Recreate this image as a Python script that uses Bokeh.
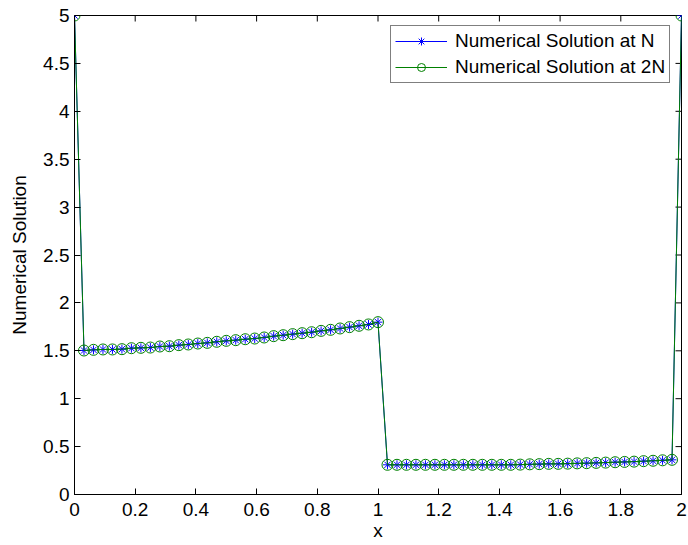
import math
from bokeh.plotting import figure
from bokeh.models import FixedTicker, Legend, LegendItem
from bokeh.embed import file_html
from bokeh.resources import INLINE

# grid points
x_vals = [0.0, 0.03125, 0.0625, 0.09375, 0.125, 0.15625, 0.1875, 0.21875, 0.25,
          0.28125, 0.3125, 0.34375, 0.375, 0.40625, 0.4375, 0.46875, 0.5,
          0.53125, 0.5625, 0.59375, 0.625, 0.65625, 0.6875, 0.71875, 0.75,
          0.78125, 0.8125, 0.84375, 0.875, 0.90625, 0.9375, 0.96875, 1.0,
          1.03125, 1.0625, 1.09375, 1.125, 1.15625, 1.1875, 1.21875, 1.25,
          1.28125, 1.3125, 1.34375, 1.375, 1.40625, 1.4375, 1.46875, 1.5,
          1.53125, 1.5625, 1.59375, 1.625, 1.65625, 1.6875, 1.71875, 1.75,
          1.78125, 1.8125, 1.84375, 1.875, 1.90625, 1.9375, 1.96875, 2.0]

# Numerical solution at N
y_N = [5.0,
       1.503, 1.510, 1.514, 1.514, 1.517, 1.527, 1.531, 1.534, 1.545, 1.548,
       1.559, 1.566, 1.576, 1.583, 1.594, 1.604, 1.611, 1.621, 1.628, 1.639,
       1.653, 1.663, 1.674, 1.684, 1.694, 1.708, 1.719, 1.733, 1.747, 1.761,
       1.775, 1.799,
       0.310, 0.310, 0.310, 0.310, 0.310, 0.310, 0.310, 0.310, 0.310, 0.310,
       0.310, 0.310, 0.310, 0.310, 0.312, 0.315, 0.317, 0.320, 0.320, 0.322,
       0.325, 0.327, 0.330, 0.333, 0.337, 0.340, 0.343, 0.348, 0.352, 0.357,
       0.362,
       5.0]

# Numerical solution at 2N (sampled at same points)
y_2N = [5.0,
        1.503, 1.510, 1.514, 1.514, 1.517, 1.527, 1.531, 1.534, 1.545, 1.548,
        1.559, 1.566, 1.576, 1.583, 1.594, 1.604, 1.611, 1.621, 1.628, 1.639,
        1.653, 1.663, 1.674, 1.684, 1.694, 1.708, 1.719, 1.733, 1.747, 1.761,
        1.775, 1.799,
        0.310, 0.310, 0.310, 0.310, 0.310, 0.310, 0.310, 0.310, 0.310, 0.310,
        0.310, 0.310, 0.310, 0.310, 0.312, 0.315, 0.317, 0.320, 0.320, 0.322,
        0.325, 0.327, 0.330, 0.333, 0.337, 0.340, 0.343, 0.348, 0.352, 0.357,
        0.362,
        5.0]

x_ticks = [0, 0.2, 0.4, 0.6, 0.8, 1, 1.2, 1.4, 1.6, 1.8, 2]
x_tick_labels = ["0", "0.2", "0.4", "0.6", "0.8", "1", "1.2", "1.4", "1.6", "1.8", "2"]
y_ticks = [0, 0.5, 1, 1.5, 2, 2.5, 3, 3.5, 4, 4.5, 5]
y_tick_labels = ["0", "0.5", "1", "1.5", "2", "2.5", "3", "3.5", "4", "4.5", "5"]

label_N = "Numerical Solution at N"
label_2N = "Numerical Solution at 2N"

FONT = "Liberation Sans"
FS = "19px"

p = figure(frame_width=607, frame_height=479, x_range=(0, 2), y_range=(0, 5),
           output_backend="svg", toolbar_location=None,
           min_border_left=74, min_border_right=7, min_border_top=15, min_border_bottom=51,
           background_fill_color="white", border_fill_color="white")
p.xgrid.visible = False
p.ygrid.visible = False
p.outline_line_color = "black"

for ax, ticks, labels in ((p.xaxis[0], x_ticks, x_tick_labels),
                          (p.yaxis[0], y_ticks, y_tick_labels)):
    ax.ticker = FixedTicker(ticks=ticks)
    ax.major_label_overrides = {t: l for t, l in zip(ticks, labels)}
    ax.major_tick_in = 6
    ax.major_tick_out = 0
    ax.minor_tick_in = 0
    ax.minor_tick_out = 0
    ax.axis_line_color = "black"
    ax.major_tick_line_color = "black"
    ax.major_label_text_font = FONT
    ax.major_label_text_font_size = FS
    ax.major_label_text_color = "black"
    ax.axis_label_text_font = FONT
    ax.axis_label_text_font_size = FS
    ax.axis_label_text_font_style = "normal"
    ax.axis_label_text_color = "black"

p.xaxis[0].axis_label = "x"
p.yaxis[0].axis_label = "Numerical Solution"
p.xaxis[0].major_label_standoff = 8
p.yaxis[0].major_label_standoff = 5
p.xaxis[0].axis_label_standoff = 1
p.yaxis[0].axis_label_standoff = 10

# inward ticks on the top and right edges of the box (half of each dash is clipped by the frame)
p.scatter(x_ticks, [5] * len(x_ticks), marker="dash", size=12, angle=math.pi / 2,
          line_color="black", line_width=1)
p.scatter([2] * len(y_ticks), y_ticks, marker="dash", size=12,
          line_color="black", line_width=1)

blue = "#0000ff"
green = "#008000"

l1 = p.line(x_vals, y_N, line_color=blue, line_width=1)
m1 = p.scatter(x_vals, y_N, marker="asterisk", size=9, line_color=blue, line_width=1)
l2 = p.line(x_vals, y_2N, line_color=green, line_width=1)
m2 = p.scatter(x_vals, y_2N, marker="circle", size=11, line_color=green,
               fill_color=None, line_width=1)

legend = Legend(items=[LegendItem(label=label_N, renderers=[l1, m1]),
                       LegendItem(label=label_2N, renderers=[l2, m2])],
                location=(316, 411))
legend.label_text_font = FONT
legend.label_text_font_size = FS
legend.label_text_color = "black"
legend.border_line_color = "black"
legend.border_line_width = 1
legend.background_fill_color = "white"
legend.background_fill_alpha = 1
legend.glyph_width = 52
legend.glyph_height = 20
legend.label_height = 20
legend.label_standoff = 8
legend.padding = 4
legend.spacing = 4
legend.margin = 0
p.add_layout(legend, "center")

open("out.html", "w").write(file_html(p, INLINE))
